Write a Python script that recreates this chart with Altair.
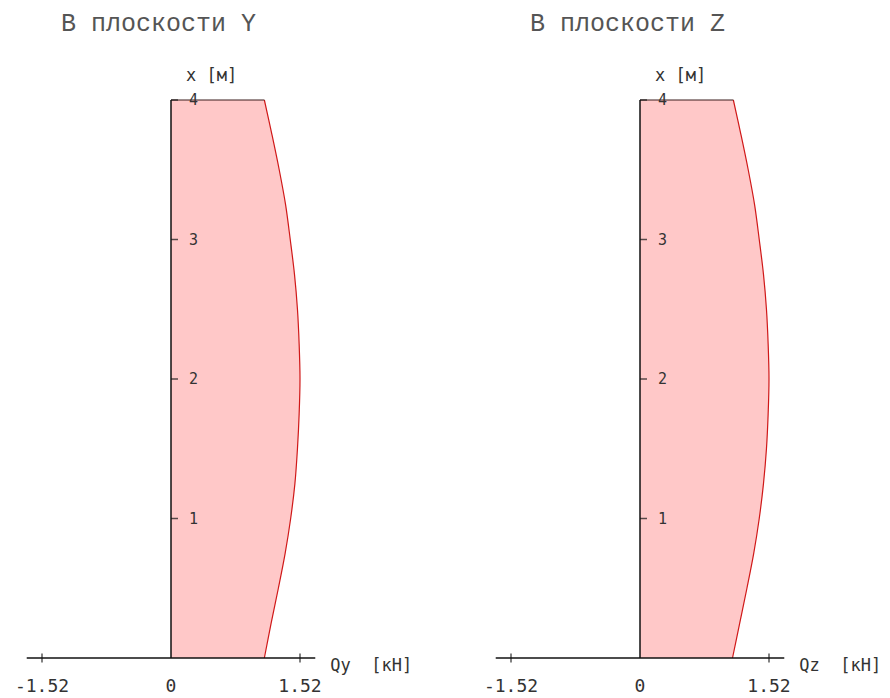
import altair as alt
import pandas as pd

# ---------------- data ----------------
X_M = [0.0, 0.25, 0.5, 0.75, 1.0, 1.25, 1.5, 1.75, 2.0, 2.25, 2.5, 2.75, 3.0, 3.25, 3.5, 3.75, 4.0]
QY = [1.10, 1.18, 1.265, 1.345, 1.41, 1.46, 1.49, 1.51, 1.52, 1.51, 1.49, 1.455, 1.405, 1.35, 1.275, 1.19, 1.10]
QZ = [1.09, 1.175, 1.26, 1.34, 1.405, 1.455, 1.49, 1.51, 1.52, 1.51, 1.49, 1.455, 1.405, 1.35, 1.275, 1.19, 1.10]

Q_TICKS = [-1.52, 1.52]
Q_LABEL_VALUES = [-1.52, 0.0, 1.52]
Q_LABELS = ["-1.52", "0", "1.52"]
X_TICKS = [1, 2, 3, 4]
X_TICK_LABELS = ["1", "2", "3", "4"]
Q_AXIS_RANGE = [-1.70, 1.70]

TITLES = ["В плоскости Y", "В плоскости Z"]
Q_NAMES = ["Qy\u00a0\u00a0[кН]", "Qz\u00a0\u00a0[кН]"]
X_NAME = "x\u00a0[м]"

# ---------------- layout ----------------
PX_PER_Q = 129 / 1.52
PX_PER_M = 139.5
Q0_LOCAL = 163
W_LEFT, W_RIGHT, H = 469, 405, 682
Y0_LOCAL = 650

Y_DOM = [-(H - Y0_LOCAL) / PX_PER_M, Y0_LOCAL / PX_PER_M]

FILL = "#FFC8C8"
LINE = "#D01818"
INK = "#111111"
TXT = "#333333"
MONO = "DejaVu Sans Mono"
TITLE_FONT = "Liberation Mono"
INTERP = "catmull-rom"


def panel(q_vals, title, q_name, width):
    q_dom = [-Q0_LOCAL / PX_PER_Q, (width - Q0_LOCAL) / PX_PER_Q]
    xs = alt.Scale(domain=q_dom, nice=False, zero=False)
    ys = alt.Scale(domain=Y_DOM, nice=False, zero=False)

    curve = pd.DataFrame({"xm": X_M, "q": q_vals})
    top = pd.DataFrame({"xm": [X_M[-1]], "q": [q_vals[-1]], "q0": [0.0]})
    vaxis = pd.DataFrame({"q": [0.0], "y1": [X_M[0]], "y2": [X_M[-1]]})
    haxis = pd.DataFrame({"q1": [Q_AXIS_RANGE[0]], "q2": [Q_AXIS_RANGE[1]], "xm": [0.0]})
    qticks = pd.DataFrame({"q": Q_TICKS, "xm": [0.0] * len(Q_TICKS)})
    qlabels = pd.DataFrame({"q": Q_LABEL_VALUES, "xm": [0.0] * len(Q_LABEL_VALUES), "t": Q_LABELS})
    xticks = pd.DataFrame({"q": [0.0] * len(X_TICKS), "xm": X_TICKS, "t": X_TICK_LABELS})
    qname = pd.DataFrame({"q": [Q_AXIS_RANGE[1]], "xm": [0.0], "t": [q_name]})
    xname = pd.DataFrame({"q": [0.0], "xm": [X_M[-1]], "t": [X_NAME]})
    ttl = pd.DataFrame({"q": [0.0], "t": [title]})

    area = alt.Chart(curve).mark_area(
        orient="horizontal", color=FILL, opacity=1, interpolate=INTERP
    ).encode(
        y=alt.Y("xm:Q", scale=ys, axis=None),
        x=alt.X("q:Q", scale=xs, axis=None),
        x2=alt.datum(0),
    )
    line = alt.Chart(curve).mark_line(color=LINE, strokeWidth=1.2, interpolate=INTERP).encode(
        y=alt.Y("xm:Q", scale=ys, axis=None),
        x=alt.X("q:Q", scale=xs, axis=None),
        order=alt.Order("xm:Q"),
    )
    top_edge = alt.Chart(top).mark_rule(color="#3a1c1c", strokeWidth=1.2).encode(
        y=alt.Y("xm:Q", scale=ys, axis=None),
        x=alt.X("q0:Q", scale=xs, axis=None),
        x2="q:Q",
    )
    v_axis = alt.Chart(vaxis).mark_rule(color=INK, strokeWidth=1.5).encode(
        x=alt.X("q:Q", scale=xs, axis=None),
        y=alt.Y("y1:Q", scale=ys, axis=None),
        y2="y2:Q",
    )
    h_axis = alt.Chart(haxis).mark_rule(color=INK, strokeWidth=1.5).encode(
        x=alt.X("q1:Q", scale=xs, axis=None),
        x2="q2:Q",
        y=alt.Y("xm:Q", scale=ys, axis=None),
    )
    q_ticks = alt.Chart(qticks).mark_tick(orient="vertical", size=9, thickness=1.5, color=INK).encode(
        x=alt.X("q:Q", scale=xs, axis=None),
        y=alt.Y("xm:Q", scale=ys, axis=None),
    )
    q_labels = alt.Chart(qlabels).mark_text(
        font=MONO, fontSize=18, color=TXT, align="center", baseline="middle", dy=29
    ).encode(
        x=alt.X("q:Q", scale=xs, axis=None),
        y=alt.Y("xm:Q", scale=ys, axis=None),
        text="t:N",
    )
    x_ticks = alt.Chart(xticks).mark_tick(
        orient="horizontal", size=7, thickness=1.5, color=INK, xOffset=3.5
    ).encode(
        x=alt.X("q:Q", scale=xs, axis=None),
        y=alt.Y("xm:Q", scale=ys, axis=None),
    )
    x_labels = alt.Chart(xticks).mark_text(
        font=MONO, fontSize=15, color=TXT, align="left", baseline="middle", dx=18
    ).encode(
        x=alt.X("q:Q", scale=xs, axis=None),
        y=alt.Y("xm:Q", scale=ys, axis=None),
        text="t:N",
    )
    q_name_txt = alt.Chart(qname).mark_text(
        font=MONO, fontSize=17, color=TXT, align="left", baseline="middle", dx=15, dy=8
    ).encode(
        x=alt.X("q:Q", scale=xs, axis=None),
        y=alt.Y("xm:Q", scale=ys, axis=None),
        text="t:N",
    )
    x_name_txt = alt.Chart(xname).mark_text(
        font=MONO, fontSize=17, color=TXT, align="left", baseline="middle", dx=15, dy=-24
    ).encode(
        x=alt.X("q:Q", scale=xs, axis=None),
        y=alt.Y("xm:Q", scale=ys, axis=None),
        text="t:N",
    )
    title_txt = alt.Chart(ttl).mark_text(
        font=TITLE_FONT, fontSize=25, color="#555555", align="left", baseline="middle", dx=-110
    ).encode(
        x=alt.X("q:Q", scale=xs, axis=None),
        y=alt.value(15),
        text="t:N",
    )

    return alt.layer(
        area, line, top_edge, v_axis, h_axis, q_ticks, q_labels,
        x_ticks, x_labels, q_name_txt, x_name_txt, title_txt,
    ).properties(width=width, height=H)


left = panel(QY, TITLES[0], Q_NAMES[0], W_LEFT)
right = panel(QZ, TITLES[1], Q_NAMES[1], W_RIGHT)

chart = (
    alt.hconcat(left, right, spacing=0)
    .properties(padding=0, background="white")
    .configure_view(strokeWidth=0)
)

chart.save("out.html", embed_options={"renderer": "svg", "actions": False})
